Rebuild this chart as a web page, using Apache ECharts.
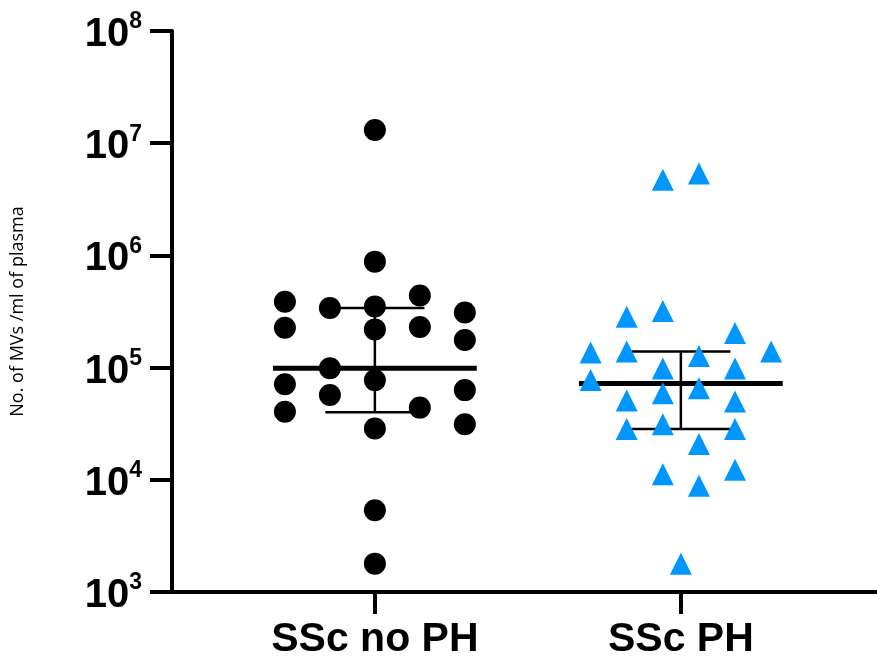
<!DOCTYPE html>
<html>
<head>
<meta charset="utf-8">
<script src="https://cdn.jsdelivr.net/npm/echarts@6/dist/echarts.min.js"></script>
<style>
  html, body { margin: 0; padding: 0; background: #fff; }
  #chart { width: 877px; height: 659px; }
</style>
</head>
<body>
<div id="chart"></div>
<script>
// groups on the x axis
const categories = ['SSc no PH', 'SSc PH']
const yTickExponents = [3, 4, 5, 6, 7, 8]

// SSc no PH: values and jitter column (in columns of the scatter)
const noPhValues = [
  1.31e7, 8.8e5, 3.86e5, 3.4e5, 3.5e5, 4.4e5, 3.1e5, 2.27e5, 2.19e5, 2.3e5, 1.76e5,
  9.86e4, 7.7e4, 7.1e4, 5.7e4, 6.3e4, 4.04e4, 4.4e4, 2.87e4, 3.13e4, 5.35e3, 1.79e3
]
const noPhColumns = [0, 0, -2, -1, 0, 1, 2, -2, 0, 1, 2, -1, 0, -2, -1, 2, -2, 1, 0, 2, 0, 0]

// SSc PH: values and jitter column (half columns)
const phValues = [
  4.72e6, 5.37e6, 2.84e5, 3.19e5, 2.03e5, 1.36e5, 1.39e5, 1.27e5, 1.39e5, 9.8e4, 9.8e4,
  7.76e4, 6.55e4, 5.9e4, 5.1e4, 4.99e4, 2.83e4, 3.13e4, 2.83e4, 2.09e4, 1.12e4, 1.23e4,
  8.85e3, 1.79e3
]
const phColumns = [-1, 1, -3, -1, 3, -5, -3, 1, 5, -1, 3, -5, 1, -1, -3, 3, -3, -1, 3, 1, -1, 3, 1, 0]

// median with interquartile range for each group
const medians = [9.86e4, 7.2e4]
const upperQuartiles = [3.4e5, 1.39e5]
const lowerQuartiles = [4.0e4, 2.83e4]

const BLUE = '#0096ff'
const noPhStep = 0.147
const phStep = 0.059
const medianHalf = 0.333
const capHalf = 0.162

const chart = echarts.init(document.getElementById('chart'))

const noPhData = noPhValues.map((v, i) => [1 + noPhColumns[i] * noPhStep, v])
const phData = phValues.map((v, i) => [2 + phColumns[i] * phStep, v])

const summarySeries = []
categories.forEach((name, i) => {
  const c = i + 1
  const lineBase = {
    type: 'line',
    symbol: 'none',
    silent: true,
    z: 1,
    lineStyle: { color: '#000', width: 2.5 }
  }
  summarySeries.push({
    ...lineBase,
    lineStyle: { color: '#000', width: 5 },
    data: [[c - medianHalf, medians[i]], [c + medianHalf, medians[i]]]
  })
  summarySeries.push({
    ...lineBase,
    data: [[c - capHalf, upperQuartiles[i]], [c + capHalf, upperQuartiles[i]]]
  })
  summarySeries.push({
    ...lineBase,
    data: [[c - capHalf, lowerQuartiles[i]], [c + capHalf, lowerQuartiles[i]]]
  })
  summarySeries.push({
    ...lineBase,
    data: [[c, lowerQuartiles[i]], [c, upperQuartiles[i]]]
  })
})

const option = {
  animation: false,
  grid: {
    left: 172,
    right: 0,
    top: 31,
    bottom: 67,
    containLabel: false,
    outerBoundsMode: 'none'
  },
  xAxis: {
    type: 'value',
    min: 0.337,
    max: 2.641,
    splitLine: { show: false },
    axisLine: { show: true, onZero: false, lineStyle: { color: '#000', width: 4 } },
    axisTick: {
      show: true,
      length: 22,
      lineStyle: { color: '#000', width: 4 },
      customValues: [1, 2]
    },
    axisLabel: {
      customValues: [1, 2],
      formatter: v => categories[Math.round(v) - 1],
      margin: 27,
      color: '#000',
      fontFamily: 'Liberation Sans',
      fontWeight: 'bold',
      fontSize: 41
    }
  },
  yAxis: {
    type: 'log',
    logBase: 10,
    min: 1e3,
    max: 1e8,
    name: 'No. of MVs /ml of plasma',
    nameLocation: 'middle',
    nameGap: 145,
    nameTextStyle: {
      color: '#000',
      fontFamily: 'Open Sans',
      fontSize: 18
    },
    splitLine: { show: false },
    axisLine: { show: true, lineStyle: { color: '#000', width: 4 } },
    axisTick: { show: true, length: 22, lineStyle: { color: '#000', width: 4 } },
    axisLabel: {
      margin: 30,
      formatter: v => {
        const e = Math.round(Math.log10(v))
        if (!yTickExponents.includes(e)) return ''
        return '{b|10}{s|' + e + '}'
      },
      rich: {
        b: {
          fontFamily: 'Liberation Sans',
          fontWeight: 'bold',
          fontSize: 40,
          color: '#000',
          padding: [8, 0, 0, 0]
        },
        s: {
          fontFamily: 'Liberation Sans',
          fontWeight: 'bold',
          fontSize: 23,
          color: '#000',
          padding: [0, 0, 18, 0]
        }
      }
    }
  },
  series: [
    ...summarySeries,
    {
      name: categories[0],
      type: 'scatter',
      z: 3,
      symbol: 'circle',
      symbolSize: 22,
      itemStyle: { color: '#000', opacity: 1 },
      data: noPhData
    },
    {
      name: categories[1],
      type: 'scatter',
      z: 3,
      symbol: 'triangle',
      symbolSize: [22, 22],
      itemStyle: { color: BLUE, opacity: 1 },
      data: phData
    }
  ]
}

chart.setOption(option)
</script>
</body>
</html>
